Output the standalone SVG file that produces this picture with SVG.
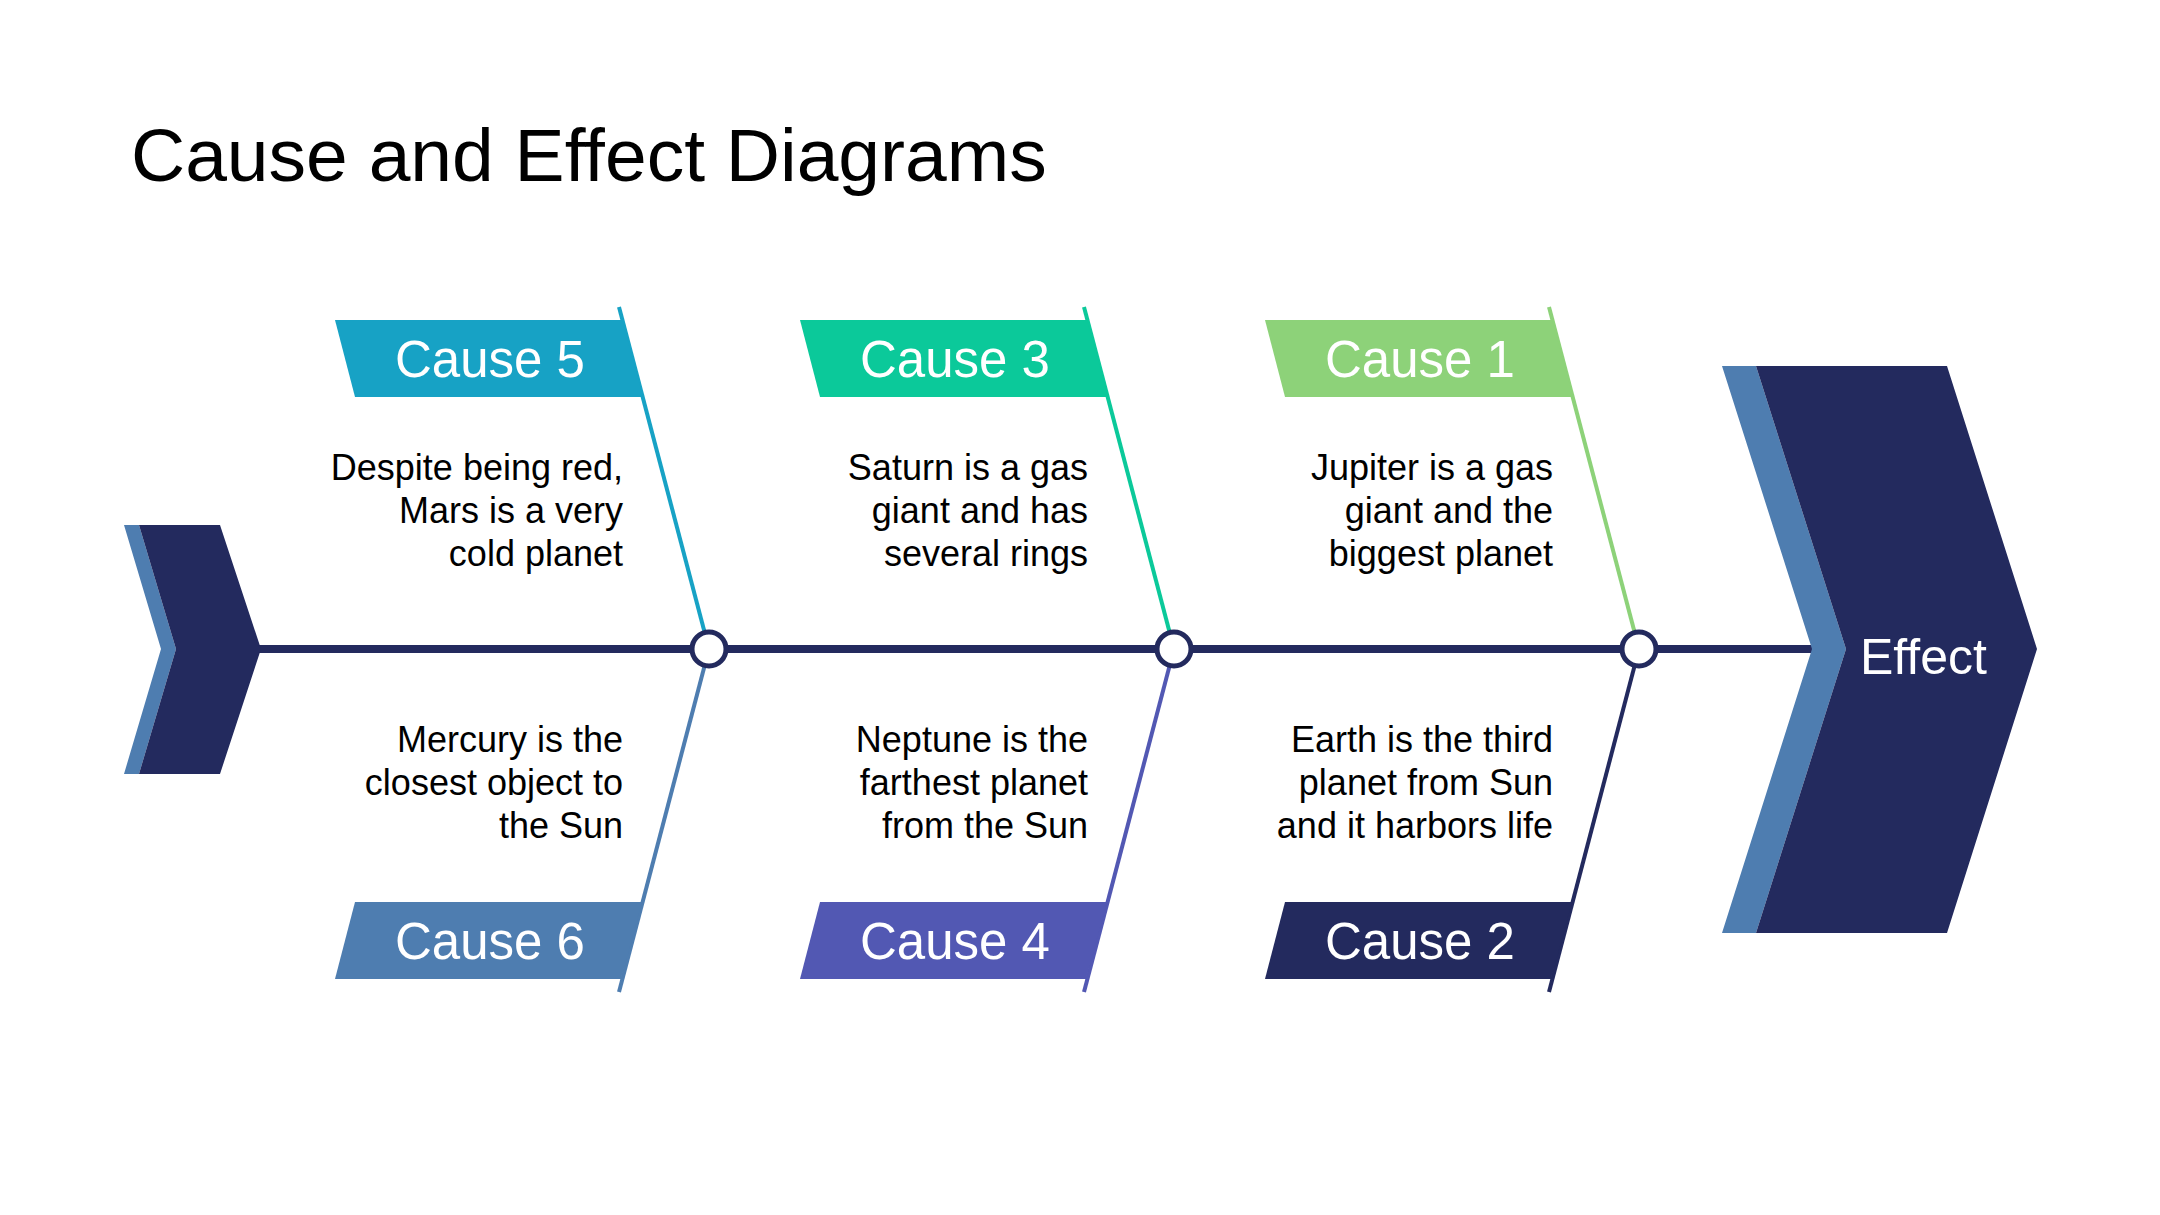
<svg xmlns="http://www.w3.org/2000/svg" width="2160" height="1215" viewBox="0 0 2160 1215">
<style>
text{font-family:"Liberation Sans",Arial,sans-serif}
.title{font-size:75px;fill:#000}
.cause{font-size:51px;fill:#fff;text-anchor:middle}
.desc{font-size:36px;fill:#000;text-anchor:end}
.eff{font-size:50px;fill:#fff}
.rib{stroke-width:4;fill:none}
.node{fill:#fff;stroke:#232A5E;stroke-width:5}
</style>
<rect width="2160" height="1215" fill="#fff"/>
<text class="title" x="131" y="181">Cause and Effect Diagrams</text>

<g id="connectors">
  <line x1="255" y1="649" x2="1830" y2="649" stroke="#232A5E" stroke-width="8"/>
  <line class="rib" x1="619" y1="307" x2="709" y2="649" stroke="#17A2C5"/>
  <line class="rib" x1="709" y1="649" x2="619" y2="992" stroke="#4E7DB0"/>
  <line class="rib" x1="1084" y1="307" x2="1174" y2="649" stroke="#0BC99A"/>
  <line class="rib" x1="1174" y1="649" x2="1084" y2="992" stroke="#5258B3"/>
  <line class="rib" x1="1549" y1="307" x2="1639" y2="649" stroke="#8DD279"/>
  <line class="rib" x1="1639" y1="649" x2="1549" y2="992" stroke="#232A5E"/>
</g>

<g id="tail">
  <polygon points="124,525 139,525 176,649 139,774 124,774 161,649" fill="#4E7DB0"/>
  <polygon points="139,525 220,525 261,649 220,774 139,774 176,649" fill="#232A5E"/>
</g>

<g id="effect">
  <polygon points="1722,366 1756,366 1846,649 1756,933 1722,933 1812,649" fill="#4E7DB0"/>
  <polygon points="1756,366 1947,366 2037,649 1947,933 1756,933 1846,649" fill="#232A5E"/>
  <text class="eff" x="1860" y="674">Effect</text>
</g>

<g id="cause5">
  <polygon points="335,320 622,320 643,397 355,397" fill="#17A2C5"/>
  <text class="cause" x="490" y="377">Cause 5</text>
  <text class="desc" x="623" y="480">Despite being red,</text>
  <text class="desc" x="623" y="523">Mars is a very</text>
  <text class="desc" x="623" y="566">cold planet</text>
</g>
<g id="cause6">
  <polygon points="355,902 642,902 621,979 335,979" fill="#4E7DB0"/>
  <text class="cause" x="490" y="959">Cause 6</text>
  <text class="desc" x="623" y="752">Mercury is the</text>
  <text class="desc" x="623" y="795">closest object to</text>
  <text class="desc" x="623" y="838">the Sun</text>
</g>
<g id="cause3">
  <polygon points="800,320 1087,320 1108,397 820,397" fill="#0BC99A"/>
  <text class="cause" x="955" y="377">Cause 3</text>
  <text class="desc" x="1088" y="480">Saturn is a gas</text>
  <text class="desc" x="1088" y="523">giant and has</text>
  <text class="desc" x="1088" y="566">several rings</text>
</g>
<g id="cause4">
  <polygon points="820,902 1107,902 1086,979 800,979" fill="#5258B3"/>
  <text class="cause" x="955" y="959">Cause 4</text>
  <text class="desc" x="1088" y="752">Neptune is the</text>
  <text class="desc" x="1088" y="795">farthest planet</text>
  <text class="desc" x="1088" y="838">from the Sun</text>
</g>
<g id="cause1">
  <polygon points="1265,320 1552,320 1573,397 1285,397" fill="#8DD279"/>
  <text class="cause" x="1420" y="377">Cause 1</text>
  <text class="desc" x="1553" y="480">Jupiter is a gas</text>
  <text class="desc" x="1553" y="523">giant and the</text>
  <text class="desc" x="1553" y="566">biggest planet</text>
</g>
<g id="cause2">
  <polygon points="1285,902 1572,902 1551,979 1265,979" fill="#232A5E"/>
  <text class="cause" x="1420" y="959">Cause 2</text>
  <text class="desc" x="1553" y="752">Earth is the third</text>
  <text class="desc" x="1553" y="795">planet from Sun</text>
  <text class="desc" x="1553" y="838">and it harbors life</text>
</g>

<g id="nodes">
  <circle id="n1" class="node" cx="709" cy="649" r="17"/>
  <circle id="n2" class="node" cx="1174" cy="649" r="17"/>
  <circle id="n3" class="node" cx="1639" cy="649" r="17"/>
</g>
</svg>
